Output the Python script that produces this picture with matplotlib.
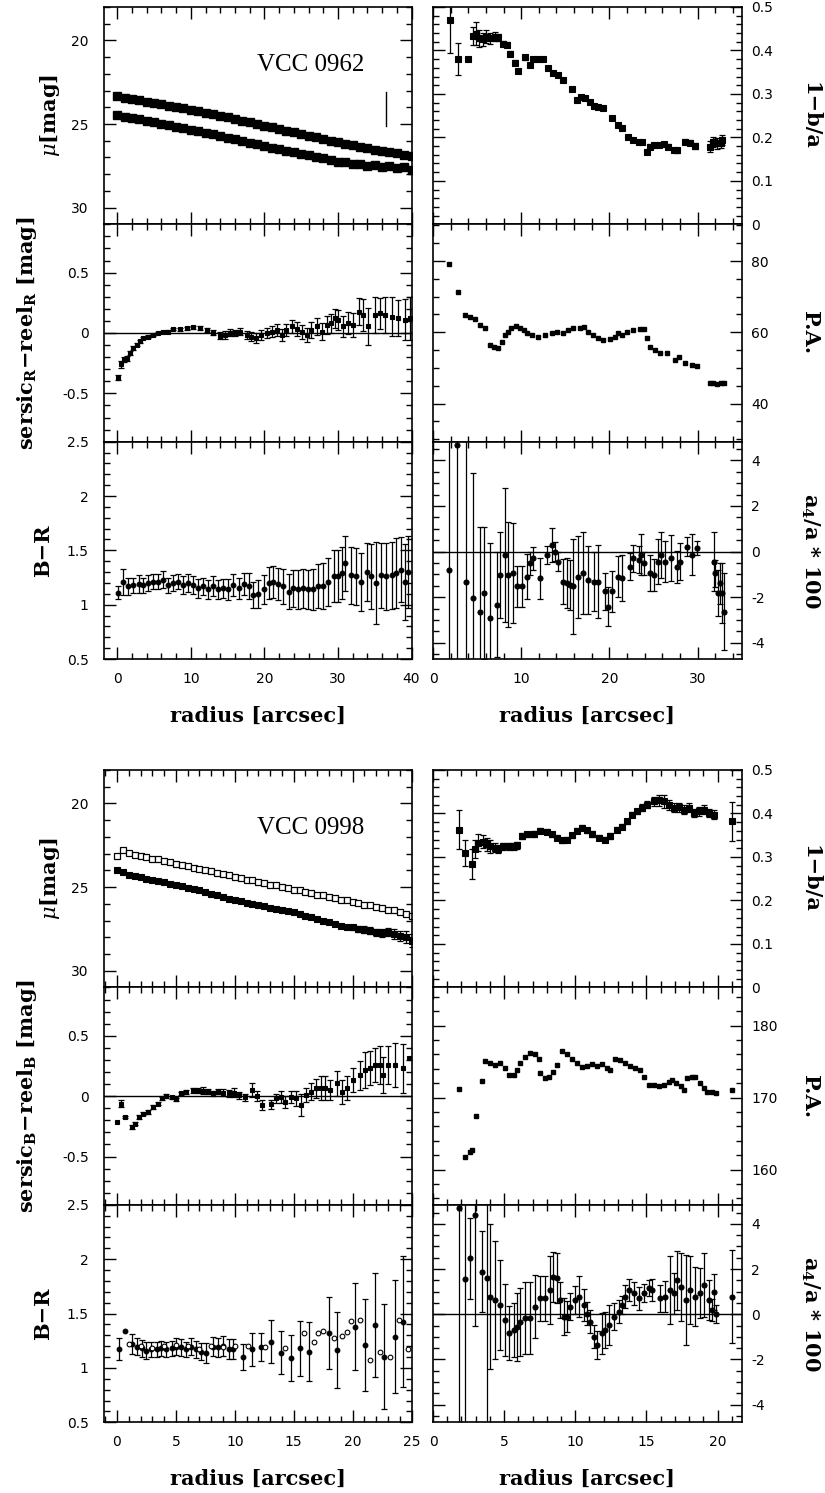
import matplotlib
matplotlib.use("Agg")
import matplotlib.pyplot as plt
from matplotlib.ticker import MultipleLocator, FuncFormatter

plt.rcParams['axes.unicode_minus'] = False
plt.rcParams['mathtext.fontset'] = 'dejavuserif'

# ======================= DATA : VCC 0962 =======================
g1_name = "VCC 0962"
g1_mu_r = [0, 1, 2, 3, 4, 5, 6, 7, 8, 9, 10, 11, 12, 13, 14, 15, 16, 17, 18, 19, 20,
           21, 22, 23, 24, 25, 26, 27, 28, 29, 30, 31, 32, 33, 34, 35, 36, 37, 38, 39, 40]
g1_mu_R = [23.35, 23.42, 23.5, 23.58, 23.66, 23.74, 23.82, 23.9, 23.98, 24.06, 24.14, 24.23,
           24.32, 24.41, 24.5, 24.6, 24.7, 24.8, 24.9, 25.0, 25.1, 25.2, 25.3, 25.4, 25.5,
           25.6, 25.7, 25.8, 25.9, 26.0, 26.1, 26.2, 26.28, 26.36, 26.45, 26.53, 26.6, 26.68,
           26.76, 26.84, 26.92]
g1_mu_B = [24.45, 24.55, 24.63, 24.72, 24.8, 24.9, 24.98, 25.07, 25.16, 25.25, 25.35, 25.44,
           25.53, 25.62, 25.72, 25.82, 25.92, 26.02, 26.12, 26.22, 26.32, 26.42, 26.5, 26.6,
           26.7, 26.8, 26.88, 26.97, 27.06, 27.15, 27.25, 27.3, 27.42, 27.38, 27.5, 27.47,
           27.58, 27.52, 27.66, 27.6, 27.75]
g1_limit_r = 36.5
g1_limit_mu = [23.1, 25.1]

g1_res_r = [0.14, 0.46, 0.91, 1.27, 1.72, 2.18, 2.63, 3.08, 3.53, 4.21, 4.89, 5.57, 6.25, 6.93,
            7.61, 8.52, 9.42, 10.33, 11.23, 12.14, 13.04, 13.95, 14.63, 15.3, 16.0, 16.7, 17.6,
            18.25, 18.93, 19.6, 20.3, 21.0, 21.7, 22.4, 23.0, 23.7, 24.4, 25.1, 25.8, 26.4, 27.1,
            27.8, 28.5, 29.1, 29.6, 30.0, 30.7, 31.4, 32.1, 32.8, 33.4, 34.1, 35.0, 35.7, 36.4,
            37.3, 38.2, 39.1, 39.8]
g1_res = [-0.37, -0.26, -0.22, -0.21, -0.165, -0.124, -0.097, -0.07, -0.042, -0.029, -0.015,
          0.0, 0.007, 0.012, 0.032, 0.032, 0.04, 0.048, 0.04, 0.026, 0.004, -0.023, -0.015,
          0.004, 0.0, 0.01, -0.015, -0.029, -0.042, -0.015, 0.0, 0.01, 0.026, -0.015, 0.026,
          0.054, 0.032, 0.01, -0.015, 0.026, 0.054, 0.01, 0.067, 0.081, 0.122, 0.108, 0.054,
          0.081, 0.067, 0.177, 0.15, 0.054, 0.15, 0.163, 0.15, 0.136, 0.122, 0.108, 0.122]
g1_res_err = [0.02, 0.03, 0.02, 0.02, 0.015, 0.015, 0.012, 0.012, 0.01, 0.01, 0.01, 0.01, 0.01,
              0.01, 0.01, 0.012, 0.012, 0.012, 0.015, 0.015, 0.02, 0.03, 0.035, 0.025, 0.025,
              0.03, 0.035, 0.035, 0.04, 0.04, 0.04, 0.045, 0.05, 0.05, 0.05, 0.055, 0.06, 0.06,
              0.06, 0.065, 0.07, 0.07, 0.075, 0.08, 0.08, 0.085, 0.09, 0.09, 0.1, 0.11, 0.13,
              0.15, 0.15, 0.13, 0.15, 0.16, 0.15, 0.17, 0.18]

g1_br_r = [0.14, 0.8, 1.5, 2.2, 2.9, 3.5, 4.2, 4.9, 5.6, 6.25, 6.9, 7.6, 8.3, 9.0, 9.6, 10.3,
           11.0, 11.7, 12.4, 13.0, 13.7, 14.4, 15.1, 15.8, 16.5, 17.2, 17.9, 18.5, 19.2, 19.9,
           20.6, 21.2, 21.9, 22.6, 23.3, 23.9, 24.6, 25.3, 25.9, 26.6, 27.3, 28.0, 28.7, 29.4,
           30.0, 30.5, 30.9, 31.8, 32.5, 33.2, 33.9, 34.5, 35.2, 35.9, 36.6, 37.3, 37.9, 38.6,
           39.1, 39.5]
g1_br = [1.11, 1.21, 1.17, 1.18, 1.19, 1.18, 1.2, 1.21, 1.21, 1.23, 1.18, 1.2, 1.21, 1.18, 1.2,
         1.18, 1.15, 1.17, 1.14, 1.17, 1.14, 1.15, 1.14, 1.18, 1.15, 1.19, 1.17, 1.09, 1.1, 1.14,
         1.2, 1.21, 1.19, 1.17, 1.12, 1.15, 1.14, 1.15, 1.14, 1.14, 1.17, 1.17, 1.21, 1.26, 1.26,
         1.29, 1.38, 1.27, 1.26, 1.21, 1.3, 1.26, 1.2, 1.27, 1.26, 1.27, 1.29, 1.32, 1.21, 1.3]
g1_br_err = [0.06, 0.12, 0.08, 0.07, 0.08, 0.07, 0.07, 0.07, 0.07, 0.08, 0.07, 0.07, 0.07, 0.08,
             0.08, 0.08, 0.09, 0.08, 0.09, 0.09, 0.09, 0.09, 0.1, 0.1, 0.1, 0.1, 0.12, 0.12,
             0.13, 0.13, 0.15, 0.15, 0.15, 0.16, 0.16, 0.17, 0.18, 0.18, 0.18, 0.19, 0.2, 0.21,
             0.22, 0.24, 0.24, 0.24, 0.25, 0.26, 0.26, 0.27, 0.27, 0.3, 0.38, 0.3, 0.31, 0.31,
             0.32, 0.3, 0.35, 0.33]

g1_ell_r = [1.9, 2.84, 3.98, 4.55, 4.93, 5.23, 5.68, 6.06, 6.44, 7.01, 7.39, 7.96, 8.41, 8.71,
            9.28, 9.66, 10.42, 10.98, 11.36, 11.93, 12.43, 13.07, 13.64, 14.2, 14.77, 15.72,
            16.29, 16.75, 17.24, 17.8, 18.2, 18.76, 19.32, 20.27, 21.02, 21.4, 22.16, 22.73,
            23.3, 23.68, 24.24, 24.62, 25.0, 25.57, 26.14, 26.7, 27.27, 27.65, 28.6, 29.17,
            29.74, 31.4, 31.8, 32.2, 32.6, 32.77]
g1_ell = [0.47, 0.38, 0.38, 0.433, 0.439, 0.428, 0.426, 0.432, 0.428, 0.432, 0.43, 0.416, 0.413,
          0.393, 0.372, 0.353, 0.384, 0.367, 0.38, 0.38, 0.381, 0.359, 0.349, 0.344, 0.332,
          0.311, 0.286, 0.294, 0.29, 0.282, 0.272, 0.27, 0.267, 0.244, 0.228, 0.221, 0.202,
          0.194, 0.19, 0.19, 0.167, 0.179, 0.182, 0.182, 0.185, 0.179, 0.171, 0.17, 0.19,
          0.188, 0.18, 0.179, 0.19, 0.186, 0.187, 0.194]
g1_ell_err = [0.075, 0.037, 0.004, 0.02, 0.027, 0.02, 0.015, 0.015, 0.012, 0.01, 0.008, 0.006,
              0.006, 0.005, 0.005, 0.005, 0.005, 0.005, 0.005, 0.005, 0.005, 0.004, 0.004, 0.004,
              0.004, 0.004, 0.004, 0.004, 0.004, 0.004, 0.004, 0.004, 0.004, 0.004, 0.004, 0.004,
              0.004, 0.004, 0.004, 0.004, 0.005, 0.005, 0.005, 0.005, 0.005, 0.005, 0.005, 0.005,
              0.006, 0.006, 0.006, 0.012, 0.012, 0.012, 0.012, 0.012]

g1_pa_r = [1.82, 2.84, 3.6, 4.17, 4.74, 5.3, 5.87, 6.44, 6.9, 7.39, 7.77, 8.15, 8.53, 8.9, 9.4,
           9.85, 10.3, 10.68, 11.18, 11.93, 12.7, 13.45, 14.02, 14.77, 15.34, 15.9, 16.67,
           17.13, 17.62, 18.19, 18.76, 19.32, 20.08, 20.65, 21.02, 21.4, 21.97, 22.73, 23.49,
           23.87, 24.24, 24.62, 25.19, 25.76, 26.52, 27.46, 27.84, 28.6, 29.36, 29.93, 31.4,
           31.8, 32.2, 32.6, 32.96]
g1_pa = [79.1, 71.4, 64.9, 64.4, 63.7, 62.0, 61.1, 56.4, 55.9, 55.5, 57.4, 59.2, 60.2, 61.1,
         61.8, 61.3, 60.6, 59.7, 59.2, 58.8, 59.2, 59.7, 60.2, 59.7, 60.6, 61.1, 61.1, 61.4,
         60.2, 59.2, 58.3, 57.8, 58.1, 58.6, 59.7, 59.2, 60.2, 60.6, 60.8, 60.8, 58.3, 56.0,
         55.0, 54.3, 54.1, 52.2, 53.1, 51.3, 50.8, 50.6, 45.8, 45.7, 45.5, 45.7, 45.8]

g1_a4_r = [1.82, 2.73, 3.79, 4.55, 5.3, 5.8, 6.44, 7.2, 7.58, 8.15, 8.53, 9.1, 9.47, 10.04,
           10.61, 10.98, 11.36, 12.1, 12.88, 13.45, 13.83, 14.2, 14.77, 15.15, 15.53, 15.9,
           16.48, 17.05, 17.62, 18.2, 18.76, 19.5, 19.89, 20.27, 21.0, 21.4, 22.35, 22.73, 23.3,
           23.56, 23.95, 24.62, 25.0, 25.46, 25.84, 26.33, 26.98, 27.65, 28.03, 28.79, 29.36,
           29.93, 31.82, 32.0, 32.27, 32.58, 32.77, 32.96]
g1_a4 = [-0.8, 4.68, -1.32, -2.04, -2.63, -1.82, -2.92, -2.34, -1.02, -0.14, -1.02, -0.95,
         -1.53, -1.53, -1.1, -0.51, -0.29, -1.17, -0.14, 0.29, 0.0, -0.44, -1.32, -1.39, -1.46,
         -1.53, -1.1, -0.95, -1.24, -1.32, -1.32, -1.75, -2.41, -1.75, -1.1, -1.17, -0.66,
         -0.29, -0.36, -0.14, -0.51, -0.95, -1.02, -0.44, -0.14, -0.44, -0.29, -0.66, -0.44,
         0.22, -0.14, 0.15, -0.44, -0.95, -1.82, -1.39, -1.82, -2.63]
g1_a4_err = [10, 10, 10, 5.5, 3.7, 2.9, 3.3, 2.3, 1.9, 2.95, 2.3, 2.2, 0.9, 0.9, 1.0, 0.5, 0.5,
             0.9, 0.4, 0.75, 0.4, 0.4, 1.0, 1.1, 1.1, 2.1, 1.8, 1.8, 1.5, 1.3, 1.6, 0.8, 0.85,
             0.9, 0.9, 1.0, 0.6, 0.6, 0.6, 0.9, 0.5, 0.8, 0.7, 1.0, 1.0, 0.9, 1.0, 0.7, 0.8, 0.4,
             0.9, 0.3, 1.3, 0.6, 1.0, 0.9, 1.3, 1.7]

# ======================= DATA : VCC 0998 =======================
g2_name = "VCC 0998"
g2_mu_r = [0.0, 0.5, 1.0, 1.5, 2.0, 2.5, 3.0, 3.5, 4.0, 4.5, 5.0, 5.5, 6.0, 6.5, 7.0, 7.5, 8.0,
           8.5, 9.0, 9.5, 10.0, 10.5, 11.0, 11.5, 12.0, 12.5, 13.0, 13.5, 14.0, 14.5, 15.0,
           15.5, 16.0, 16.5, 17.0, 17.5, 18.0, 18.5, 19.0, 19.5, 20.0, 20.5, 21.0, 21.5, 22.0,
           22.5, 23.0, 23.5, 24.0, 24.5, 25.0]
g2_mu_R = [23.15, 22.8, 22.95, 23.1, 23.15, 23.2, 23.3, 23.35, 23.45, 23.5, 23.6, 23.7, 23.75,
           23.85, 23.9, 24.0, 24.05, 24.15, 24.2, 24.3, 24.4, 24.45, 24.55, 24.6, 24.7, 24.75,
           24.85, 24.9, 25.0, 25.05, 25.15, 25.2, 25.3, 25.35, 25.45, 25.5, 25.6, 25.65, 25.75,
           25.8, 25.9, 25.95, 26.05, 26.1, 26.2, 26.25, 26.35, 26.4, 26.5, 26.6, 26.7]
g2_mu_B = [23.95, 24.1, 24.3, 24.35, 24.4, 24.5, 24.55, 24.65, 24.7, 24.8, 24.9, 24.95, 25.05,
           25.1, 25.2, 25.3, 25.4, 25.5, 25.6, 25.7, 25.8, 25.85, 25.95, 26.0, 26.1, 26.15,
           26.25, 26.3, 26.4, 26.45, 26.5, 26.6, 26.7, 26.8, 26.9, 27.0, 27.1, 27.2, 27.3, 27.4,
           27.4, 27.5, 27.55, 27.6, 27.7, 27.75, 27.7, 27.8, 27.9, 28.0, 28.2]
g2_mu_B_err = [0, 0, 0, 0, 0, 0, 0, 0, 0, 0, 0, 0, 0, 0, 0, 0, 0, 0, 0, 0, 0, 0, 0, 0, 0, 0,
               0, 0, 0, 0, 0, 0, 0, 0, 0, 0, 0.1, 0.1, 0.12, 0.12, 0.15, 0.18, 0.2, 0.2, 0.22,
               0.25, 0.25, 0.28, 0.3, 0.35, 0.4]

g2_res_r = [0.0, 0.34, 0.7, 1.26, 1.54, 1.9, 2.25, 2.66, 3.09, 3.5, 3.8, 4.2, 4.63, 5.05, 5.47,
            5.9, 6.45, 6.88, 7.3, 7.72, 8.14, 8.56, 8.99, 9.55, 9.97, 10.4, 10.9, 11.5, 11.9,
            12.35, 13.05, 13.47, 13.9, 14.3, 14.75, 15.2, 15.6, 16.05, 16.5, 16.9, 17.3, 17.7,
            18.1, 18.7, 19.1, 19.5, 20.06, 20.6, 21.05, 21.5, 21.9, 22.3, 22.6, 23.0, 23.6,
            24.3, 24.8]
g2_res = [-0.213, -0.061, -0.171, -0.254, -0.227, -0.171, -0.144, -0.13, -0.088, -0.061,
          -0.019, 0.0, -0.011, -0.027, 0.022, 0.036, 0.05, 0.045, 0.045, 0.036, 0.022, 0.036,
          0.03, 0.022, 0.03, 0.008, -0.011, 0.05, 0.0, -0.075, -0.068, -0.019, -0.005, -0.047,
          -0.005, -0.019, -0.075, 0.008, 0.036, 0.064, 0.064, 0.064, 0.05, 0.105, 0.036, 0.064,
          0.133, 0.174, 0.216, 0.23, 0.257, 0.257, 0.174, 0.257, 0.257, 0.23, 0.313]
g2_res_err = [0.0, 0.03, 0.01, 0.015, 0.015, 0.015, 0.015, 0.015, 0.015, 0.015, 0.015, 0.015,
              0.015, 0.015, 0.015, 0.015, 0.02, 0.02, 0.03, 0.02, 0.02, 0.02, 0.03, 0.03, 0.04,
              0.03, 0.03, 0.06, 0.04, 0.04, 0.04, 0.04, 0.05, 0.05, 0.05, 0.06, 0.09, 0.06,
              0.07, 0.08, 0.1, 0.1, 0.08, 0.1, 0.1, 0.1, 0.1, 0.12, 0.15, 0.14, 0.14, 0.16, 0.15,
              0.16, 0.18, 0.2, 0.0]

g2_br_r = [0.14, 0.7, 1.26, 1.68, 2.1, 2.5, 2.9, 3.36, 3.78, 4.2, 4.63, 5.05, 5.47, 5.9, 6.3,
           6.7, 7.15, 7.58, 8.14, 8.56, 8.99, 9.55, 9.83, 10.67, 11.5, 12.2, 13.05, 13.9, 14.75,
           15.5, 16.3, 18.0, 18.7, 20.2, 21.05, 21.9, 22.7, 23.6, 24.3]
g2_br = [1.172, 1.343, 1.22, 1.196, 1.18, 1.16, 1.172, 1.172, 1.18, 1.172, 1.18, 1.196, 1.19,
         1.172, 1.196, 1.172, 1.15, 1.14, 1.196, 1.19, 1.2, 1.172, 1.172, 1.104, 1.172, 1.19,
         1.242, 1.14, 1.089, 1.18, 1.15, 1.319, 1.165, 1.38, 1.211, 1.395, 1.104, 1.288, 1.426]
g2_br_err = [0.1, 0.0, 0.09, 0.08, 0.08, 0.08, 0.07, 0.07, 0.07, 0.07, 0.07, 0.08, 0.08, 0.07,
             0.08, 0.08, 0.08, 0.09, 0.09, 0.09, 0.09, 0.09, 0.09, 0.12, 0.15, 0.13, 0.2, 0.2,
             0.21, 0.25, 0.27, 0.33, 0.35, 0.4, 0.42, 0.48, 0.48, 0.52, 0.6]
g2_br_open_r = [1.0, 2.0, 3.0, 4.0, 5.0, 6.0, 7.0, 8.0, 9.0, 10.0, 11.1, 12.6, 14.3, 15.9, 16.7,
                17.1, 17.5, 18.4, 19.1, 19.5, 19.9, 20.6, 21.5, 22.3, 23.2, 23.9, 24.7]
g2_br_open = [1.22, 1.2, 1.18, 1.2, 1.21, 1.2, 1.17, 1.2, 1.19, 1.2, 1.2, 1.19, 1.18, 1.32, 1.24,
              1.32, 1.34, 1.28, 1.29, 1.33, 1.43, 1.44, 1.07, 1.15, 1.1, 1.44, 1.17]

g2_ell_r = [1.85, 2.25, 2.72, 2.96, 3.19, 3.54, 3.78, 4.01, 4.37, 4.6, 4.95, 5.31, 5.66, 5.89,
            6.25, 6.6, 7.07, 7.54, 8.0, 8.36, 8.71, 9.06, 9.41, 9.77, 10.12, 10.47, 10.82, 11.17,
            11.64, 12.11, 12.46, 12.93, 13.29, 13.64, 13.99, 14.34, 14.69, 15.05, 15.52, 15.87,
            16.22, 16.57, 16.92, 17.28, 17.63, 17.98, 18.33, 18.69, 19.04, 19.39, 19.74, 21.03]
g2_ell = [0.363, 0.31, 0.284, 0.318, 0.333, 0.335, 0.329, 0.325, 0.321, 0.318, 0.325, 0.325,
          0.325, 0.327, 0.348, 0.352, 0.353, 0.36, 0.358, 0.352, 0.344, 0.338, 0.34, 0.35, 0.36,
          0.367, 0.361, 0.353, 0.344, 0.34, 0.348, 0.363, 0.37, 0.382, 0.397, 0.405, 0.413,
          0.42, 0.428, 0.43, 0.428, 0.42, 0.413, 0.414, 0.409, 0.413, 0.401, 0.405, 0.409,
          0.401, 0.397, 0.382]
g2_ell_err = [0.045, 0.03, 0.035, 0.02, 0.02, 0.015, 0.015, 0.015, 0.01, 0.01, 0.008, 0.008,
              0.008, 0.008, 0.006, 0.006, 0.006, 0.006, 0.006, 0.006, 0.006, 0.006, 0.006, 0.006,
              0.006, 0.006, 0.006, 0.006, 0.006, 0.006, 0.006, 0.006, 0.006, 0.006, 0.006, 0.006,
              0.008, 0.008, 0.01, 0.012, 0.015, 0.012, 0.01, 0.01, 0.01, 0.01, 0.01, 0.01, 0.01,
              0.01, 0.01, 0.045]

g2_pa_r = [1.85, 2.25, 2.61, 2.77, 3.03, 3.43, 3.66, 4.01, 4.37, 4.72, 5.07, 5.31, 5.66, 5.89,
           6.13, 6.48, 6.83, 7.18, 7.42, 7.53, 7.89, 8.12, 8.47, 8.71, 9.06, 9.41, 9.77, 10.12,
           10.47, 10.82, 11.17, 11.53, 11.88, 12.23, 12.46, 12.82, 13.17, 13.52, 13.87, 14.23,
           14.58, 14.82, 15.17, 15.52, 15.87, 16.23, 16.58, 16.81, 17.05, 17.4, 17.63, 17.87,
           18.22, 18.45, 18.8, 19.04, 19.28, 19.63, 19.86, 21.03]
g2_pa = [171.2, 161.7, 162.5, 162.7, 167.4, 172.3, 175.1, 174.8, 174.5, 174.8, 174.1, 173.2,
         173.2, 173.9, 174.8, 175.7, 176.2, 176.0, 175.3, 173.4, 172.7, 172.9, 173.6, 174.5,
         176.5, 176.0, 175.3, 174.8, 174.3, 174.4, 174.6, 174.4, 174.6, 174.1, 173.9, 175.3,
         175.2, 174.8, 174.4, 174.1, 173.9, 172.9, 171.8, 171.8, 171.6, 171.8, 172.2, 172.5,
         172.0, 171.6, 171.1, 172.7, 172.9, 172.9, 172.0, 171.3, 170.8, 170.8, 170.6, 171.1]

g2_a4_r = [1.85, 2.25, 2.61, 2.96, 3.43, 3.78, 4.01, 4.37, 4.72, 5.07, 5.31, 5.66, 5.89, 6.13,
           6.48, 6.83, 7.18, 7.53, 7.89, 8.24, 8.47, 8.71, 8.94, 9.18, 9.41, 9.65, 10.0, 10.24,
           10.59, 10.82, 11.06, 11.29, 11.53, 11.88, 12.11, 12.35, 12.7, 13.05, 13.29, 13.52,
           13.76, 14.11, 14.46, 14.82, 15.17, 15.4, 15.99, 16.34, 16.69, 16.92, 17.16, 17.4,
           17.75, 18.1, 18.45, 18.8, 19.04, 19.39, 19.63, 19.74, 19.86, 21.03]
g2_a4 = [4.69, 1.55, 2.48, 4.39, 1.89, 1.59, 0.78, 0.63, 0.41, -0.25, -0.84, -0.69, -0.55,
         -0.33, -0.18, -0.18, 0.34, 0.7, 0.7, 1.08, 1.66, 1.59, 0.63, -0.1, -0.1, 0.34, 0.63,
         0.78, 0.41, 0.03, -0.33, -0.99, -1.36, -0.84, -0.69, -0.47, -0.1, 0.11, 0.41, 0.78,
         1.08, 0.93, 0.7, 0.93, 1.15, 1.08, 0.7, 0.78, 1.08, 0.93, 1.5, 1.21, 0.63, 1.08, 0.78,
         0.93, 1.3, 0.63, 0.19, 1.0, 0.03, 0.78]
g2_a4_err = [10, 10, 1.8, 4.9, 1.8, 10, 3.2, 2.6, 2.0, 1.6, 1.2, 1.2, 1.5, 1.5, 1.6, 1.6, 1.4,
             1.0, 1.0, 1.5, 1.1, 1.1, 0.8, 0.8, 0.7, 0.6, 0.6, 0.9, 0.7, 0.5, 0.5, 0.5, 0.6, 0.9,
             0.8, 0.9, 0.6, 0.5, 0.4, 0.5, 0.5, 0.5, 0.5, 0.4, 0.35, 0.5, 0.6, 0.7, 1.5, 0.9,
             1.3, 1.5, 2.0, 1.5, 1.3, 1.1, 1.4, 0.9, 0.5, 0.8, 0.4, 2.05]

# ======================= FIGURE =======================
W, H = 825, 1493
fig = plt.figure(figsize=(W / 100, H / 100), dpi=100)

TICKFONT = dict(family='DejaVu Sans', size=10)
LABFONT = dict(family='DejaVu Serif', weight='bold', size=15)


def rect(x0, y0, x1, y1):
    return [x0 / W, 1 - y1 / H, (x1 - x0) / W, (y1 - y0) / H]


gfmt = FuncFormatter(lambda v, p: ('%g' % round(v, 4)))


def style(ax, xmaj, xmin, ymaj, ymin, right=False, xlabels=False):
    ax.xaxis.set_major_locator(MultipleLocator(xmaj))
    ax.xaxis.set_minor_locator(MultipleLocator(xmin))
    ax.yaxis.set_major_locator(MultipleLocator(ymaj))
    ax.yaxis.set_minor_locator(MultipleLocator(ymin))
    ax.xaxis.set_major_formatter(gfmt)
    ax.yaxis.set_major_formatter(gfmt)
    ax.tick_params(which='both', direction='in', top=True, bottom=True, left=True, right=True,
                   width=1.0, colors='k')
    ax.tick_params(which='major', length=8.5)
    ax.tick_params(which='minor', length=4.5)
    ax.tick_params(axis='x', labelbottom=xlabels, pad=9)
    if right:
        ax.tick_params(axis='y', labelleft=False, labelright=True, pad=7)
    else:
        ax.tick_params(axis='y', labelleft=True, labelright=False, pad=11)
    for lab in ax.get_xticklabels() + ax.get_yticklabels():
        lab.set_fontfamily(TICKFONT['family'])
        lab.set_fontsize(TICKFONT['size'])
    for s in ax.spines.values():
        s.set_linewidth(1.2)


def errpts(ax, x, y, e, marker='s', ms=3.2, mfc='k', cap=2.5):
    xs = [a for a, b in zip(x, e) if b > 0]
    ys = [a for a, b in zip(y, e) if b > 0]
    es = [b for b in e if b > 0]
    if xs:
        ax.errorbar(xs, ys, yerr=es, fmt='none', ecolor='k', elinewidth=0.9,
                    capsize=cap, capthick=0.9)
    ax.plot(x, y, ls='none', marker=marker, ms=ms, mfc=mfc, mec='k', mew=0.8)


blocks = [
    dict(name=g1_name, y0=7.0, y1=659.0, xmaxL=40, xminL=-1.8, xmajL=10, xminorL=2,
         xmaxR=35, xmajR=10, xminorR=2, pa_lim=(29.3, 90.3), pa_maj=20, pa_min=5,
         a4_lim=(-4.71, 4.82)),
    dict(name=g2_name, y0=770.0, y1=1422.3, xmaxL=25, xminL=-1.1, xmajL=5, xminorL=1,
         xmaxR=21.7, xmajR=5, xminorR=1, pa_lim=(155.1, 185.3), pa_maj=10, pa_min=2,
         a4_lim=(-4.78, 4.84)),
]
LX0, LX1 = 104.0, 411.5
RX0, RX1 = 433.0, 741.7

for bi, b in enumerate(blocks):
    h = (b['y1'] - b['y0']) / 3.0
    ys = [b['y0'] + i * h for i in range(4)]
    axL = [fig.add_axes(rect(LX0, ys[i], LX1, ys[i + 1])) for i in range(3)]
    axR = [fig.add_axes(rect(RX0, ys[i], RX1, ys[i + 1])) for i in range(3)]

    # ---------------- left column ----------------
    a = axL[0]
    if bi == 0:
        a.plot(g1_mu_r, g1_mu_R, ls='none', marker='s', ms=5.8, mfc='k', mec='k')
        a.plot(g1_mu_r, g1_mu_B, ls='none', marker='s', ms=5.8, mfc='k', mec='k')
        a.plot([g1_limit_r, g1_limit_r], g1_limit_mu, color='k', lw=1.0)
    else:
        a.plot(g2_mu_r, g2_mu_R, ls='none', marker='s', ms=4.2, mfc='white', mec='k', mew=0.9)
        errpts(a, g2_mu_r, g2_mu_B, g2_mu_B_err, marker='s', ms=4.3)
    a.set_ylim(31, 18)
    a.set_xlim(b['xminL'], b['xmaxL'])
    style(a, b['xmajL'], b['xminorL'], 5, 1)
    a.text(0.673, 0.733, b['name'], transform=a.transAxes, ha='center', va='center',
           family='Liberation Serif', fontsize=18)

    a = axL[1]
    a.axhline(0, color='k', lw=1.0)
    if bi == 0:
        errpts(a, g1_res_r, g1_res, g1_res_err, ms=3.2)
    else:
        errpts(a, g2_res_r, g2_res, g2_res_err, ms=3.2)
    a.set_ylim(-0.9, 0.9)
    a.set_xlim(b['xminL'], b['xmaxL'])
    style(a, b['xmajL'], b['xminorL'], 0.5, 0.1)

    a = axL[2]
    if bi == 0:
        errpts(a, g1_br_r, g1_br, g1_br_err, marker='o', ms=3.4)
    else:
        errpts(a, g2_br_r, g2_br, g2_br_err, marker='o', ms=3.4)
        a.plot(g2_br_open_r, g2_br_open, ls='none', marker='o', ms=3.4, mfc='white',
               mec='k', mew=0.8)
    a.set_ylim(0.5, 2.5)
    a.set_xlim(b['xminL'], b['xmaxL'])
    style(a, b['xmajL'], b['xminorL'], 0.5, 0.1, xlabels=True)

    # ---------------- right column ----------------
    a = axR[0]
    if bi == 0:
        errpts(a, g1_ell_r, g1_ell, g1_ell_err, ms=4.0)
    else:
        errpts(a, g2_ell_r, g2_ell, g2_ell_err, ms=4.0)
    a.set_ylim(0, 0.5)
    a.set_xlim(0, b['xmaxR'])
    style(a, b['xmajR'], b['xminorR'], 0.1, 0.02, right=True)

    a = axR[1]
    if bi == 0:
        a.plot(g1_pa_r, g1_pa, ls='none', marker='s', ms=3.4, mfc='k', mec='k')
    else:
        a.plot(g2_pa_r, g2_pa, ls='none', marker='s', ms=3.4, mfc='k', mec='k')
    a.set_ylim(*b['pa_lim'])
    a.set_xlim(0, b['xmaxR'])
    style(a, b['xmajR'], b['xminorR'], b['pa_maj'], b['pa_min'], right=True)

    a = axR[2]
    a.axhline(0, color='k', lw=1.0)
    if bi == 0:
        errpts(a, g1_a4_r, g1_a4, g1_a4_err, marker='o', ms=3.6)
    else:
        errpts(a, g2_a4_r, g2_a4, g2_a4_err, marker='o', ms=3.6)
    a.set_ylim(*b['a4_lim'])
    a.set_xlim(0, b['xmaxR'])
    style(a, b['xmajR'], b['xminorR'], 2, 0.5, right=True, xlabels=True)

    # ---------------- axis labels ----------------
    def ftext(x, y, s, rot, **kw):
        fig.text(x / W, 1 - y / H, s, rotation=rot, ha='center', va='center',
                 rotation_mode='anchor', **kw)

    ftext(50, (ys[0] + ys[1]) / 2, r'$\mu$[mag]', 90, **LABFONT)
    sub = 'R' if bi == 0 else 'B'
    ftext(27, (ys[1] + ys[2]) / 2,
          r'sersic$_\mathbf{%s}$−reel$_\mathbf{%s}$ [mag]' % (sub, sub), 90, **LABFONT)
    ftext(43, (ys[2] + ys[3]) / 2, 'B−R', 90, **LABFONT)
    ftext(810, (ys[0] + ys[1]) / 2, '1−b/a', 270, **LABFONT)
    ftext(810, (ys[1] + ys[2]) / 2, 'P.A.', 270, **LABFONT)
    ftext(810, (ys[2] + ys[3]) / 2, r'a$_\mathbf{4}$/a * 100', 270, **LABFONT)
    ftext((LX0 + LX1) / 2, b['y1'] + 57, 'radius [arcsec]', 0, **LABFONT)
    ftext((RX0 + RX1) / 2, b['y1'] + 57, 'radius [arcsec]', 0, **LABFONT)

fig.savefig('out.png', dpi=100)
